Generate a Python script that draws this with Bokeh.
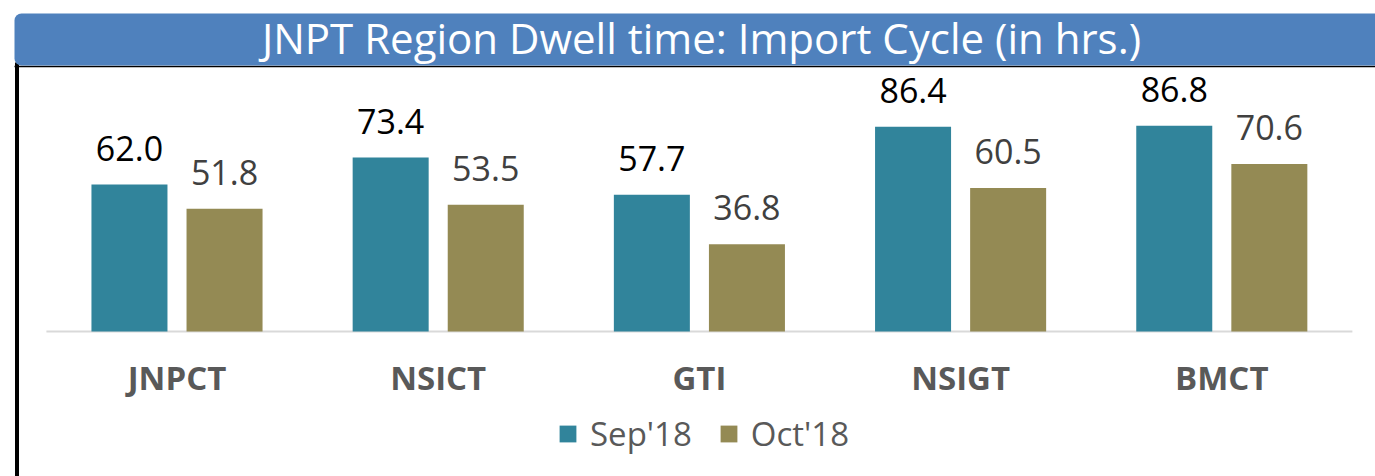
from bokeh.plotting import figure
from bokeh.models import Range1d, ColumnDataSource, Label, BoxAnnotation, Legend, LegendItem
from bokeh.core.properties import value
from bokeh.embed import file_html
from bokeh.resources import INLINE

# ---- data ----
categories = ["JNPCT", "NSICT", "GTI", "NSIGT", "BMCT"]
sep18 = [62.0, 73.4, 57.7, 86.4, 86.8]
oct18 = [51.8, 53.5, 36.8, 60.5, 70.6]
series_names = ["Sep'18", "Oct'18"]
title_text = "JNPT Region Dwell time: Import Cycle (in hrs.)"

# ---- layout (page pixels -> data) ----
W, H = 1375, 476
CAT0_PX, CAT_STEP = 176.5, 261.2
BASE_PX, Y_SCALE = 331.0, 2.371
BL = 0.42  # alphabetic baseline correction (fraction of font size)

def X(px):
    return (px - CAT0_PX) / CAT_STEP

def Y(py):
    return (BASE_PX - py) / Y_SCALE

SEP_C, OCT_C = "#31849B", "#948A54"
FONT = "Open Sans"
VAL_FS, CAT_FS, TITLE_FS, LEG_FS = 34, 33, 42, 33

p = figure(width=W, height=H, output_backend="svg", toolbar_location=None,
           x_range=Range1d(X(0), X(W)),
           y_range=Range1d(Y(H), Y(0)),
           x_axis_location=None, y_axis_location=None,
           min_border=0)
p.grid.visible = False
p.outline_line_color = None
p.background_fill_color = "white"
p.border_fill_color = "white"

n = len(categories)
idx = list(range(n))
off, bw = 0.182, 0.291
gap = (22 + BL * VAL_FS) / Y_SCALE
src = ColumnDataSource(dict(
    cat=categories, xs=[i - off for i in idx], xo=[i + off for i in idx],
    sep=sep18, oct=oct18,
    sep_lbl=[f"{v:.1f}" for v in sep18], oct_lbl=[f"{v:.1f}" for v in oct18],
    sep_y=[v + gap for v in sep18], oct_y=[v + gap for v in oct18],
    xc=idx, cy=[Y(391 - BL * CAT_FS)] * n,
))

# baseline
p.segment(x0=[-0.5], y0=[0], x1=[n - 0.5], y1=[0], line_color="#D9D9D9", line_width=2)

r1 = p.vbar(x="xs", top="sep", bottom=0, width=bw, source=src, fill_color=SEP_C, line_color=None)
r2 = p.vbar(x="xo", top="oct", bottom=0, width=bw, source=src, fill_color=OCT_C, line_color=None)

p.text(x="xs", y="sep_y", text="sep_lbl", source=src, text_align="center",
       text_baseline="alphabetic", text_font=value(FONT), text_font_size=f"{VAL_FS}px",
       text_color="#000000")
p.text(x="xo", y="oct_y", text="oct_lbl", source=src, text_align="center",
       text_baseline="alphabetic", text_font=value(FONT), text_font_size=f"{VAL_FS}px",
       text_color="#404040")

# category labels
p.text(x="xc", y="cy", text="cat", source=src, text_align="center",
       text_baseline="alphabetic", text_font=value(FONT), text_font_size=f"{CAT_FS}px",
       text_font_style="bold", text_color="#595959")

# left black line
p.segment(x0=[X(16.5)], y0=[Y(62)], x1=[X(16.5)], y1=[Y(H)], line_color="black", line_width=4)
# line under banner
p.segment(x0=[X(14)], y0=[Y(66)], x1=[X(W)], y1=[Y(66)], line_color="black", line_width=1.5)

# banner
banner = BoxAnnotation(left=X(14), right=X(W + 20), top=Y(13), bottom=Y(65),
                       fill_color="#4F81BD", fill_alpha=1.0, line_color=None,
                       border_radius=7)
p.add_layout(banner)
p.add_layout(Label(x=X(701), y=Y(55 - BL * TITLE_FS), text=title_text, text_align="center",
                   text_baseline="alphabetic", text_font=FONT,
                   text_font_size=f"{TITLE_FS}px", text_color="white"))

legend = Legend(items=[LegendItem(label=series_names[0], renderers=[r1]),
                       LegendItem(label=series_names[1], renderers=[r2])],
                orientation="horizontal", location=(557, 20),
                glyph_width=21, glyph_height=21, label_standoff=12, spacing=26,
                padding=0, margin=0, border_line_color=None, background_fill_alpha=0,
                label_text_font=FONT, label_text_font_size=f"{LEG_FS}px",
                label_text_color="#595959")
p.add_layout(legend)

open("out.html", "w").write(file_html(p, INLINE))
